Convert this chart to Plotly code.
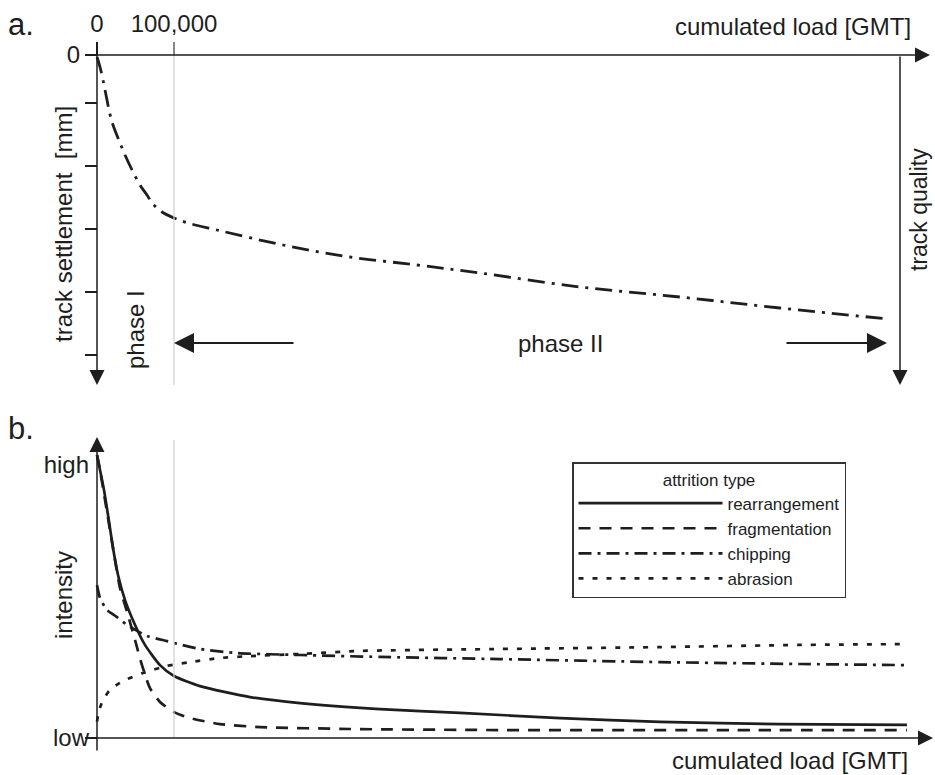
import plotly.graph_objects as go

W, H = 935, 775
FONT = "Liberation Sans, Arial, sans-serif"
INK = "#1e1e1e"

# ---------------- data ----------------
# panel a: track settlement vs cumulated load
settle_load = [0, 3900, 7800, 11700, 15600, 19500, 24700, 29900, 36400, 45500,
               55800, 64900, 72700, 84400, 100000, 118200, 155800, 241600,
               328600, 415600, 497400, 627300, 757100, 887000, 1027300]
settle_mm = [0.2, 1.2, 2.5, 4.0, 5.5, 6.7, 7.8, 8.8, 10.0, 11.5,
             13.0, 14.0, 14.9, 15.7, 16.3, 16.8, 17.5, 19.0,
             20.2, 21.0, 21.8, 23.2, 24.2, 25.3, 26.4]
settle_ticks = [0, 4.8, 11.1, 17.4, 23.7, 30.0]
settle_ticktext = ["0", "", "", "", "", ""]
load_ticks = [0, 100000]
load_ticktext = ["0", "100,000"]
phase_boundary = 100000

# panel b: attrition intensity (0 = low, 1 = high)
rearr_load = [0, 3900, 9100, 14300, 20800, 27300, 36400, 49400, 62300, 81800,
              100000, 133800, 198700, 263600, 367500, 471400, 601300, 731200,
              887000, 1051900]
rearr_int = [1.037, 0.982, 0.908, 0.817, 0.696, 0.597, 0.505, 0.414, 0.341, 0.267,
             0.227, 0.190, 0.150, 0.128, 0.106, 0.092, 0.073, 0.059, 0.051, 0.048]

frag_load = [0, 3900, 10400, 16900, 23400, 29900, 39000, 49400, 58400, 68800,
             81800, 100000, 120800, 159700, 211700, 328600, 523400, 783100, 1051900]
frag_int = [1.037, 0.982, 0.872, 0.762, 0.652, 0.549, 0.462, 0.359, 0.267, 0.183,
            0.132, 0.095, 0.073, 0.051, 0.040, 0.033, 0.029, 0.029, 0.029]

chip_load = [0, 3900, 13000, 26000, 39000, 64900, 90900, 100000, 133800, 181800,
             263600, 367500, 523400, 731200, 913000, 1051900]
chip_int = [0.560, 0.513, 0.469, 0.443, 0.414, 0.374, 0.355, 0.348, 0.326, 0.311,
            0.304, 0.297, 0.289, 0.278, 0.271, 0.267]

abr_load = [0, 2600, 7800, 16900, 33800, 59700, 90900, 120800, 159700, 198700,
            263600, 341600, 523400, 731200, 913000, 1051900]
abr_int = [0.060, 0.100, 0.139, 0.176, 0.209, 0.238, 0.264, 0.278, 0.293, 0.300,
           0.308, 0.319, 0.326, 0.333, 0.341, 0.344]

intensity_ticks = [0, 1]
intensity_ticktext = ["low", "high"]

# ---------------- geometry helpers (layout only) ----------------
def px(x):
    return x / W

def py(y):
    return 1 - y / H

X0PX, X100PX = 97, 174                     # pixel of load 0 and 100,000
GMT_PER_PX = 100000 / (X100PX - X0PX)
x_range = [(0 - X0PX) * GMT_PER_PX, (W - X0PX) * GMT_PER_PX]

A_TOP, A_BOT = 0, 400                       # panel a pixel band
A_ZERO = 55
A_SCALE = 10.0                               # px per settlement unit
ya_range = [(A_BOT - A_ZERO) / A_SCALE, (A_TOP - A_ZERO) / A_SCALE]

B_TOP, B_BOT = 400, H
B_LOW, B_HIGH = 738, 465
B_SCALE = B_LOW - B_HIGH
yb_range = [(B_LOW - B_BOT) / B_SCALE, (B_LOW - B_TOP) / B_SCALE]

TXT = 24

fig = go.Figure()

fig.add_trace(go.Scatter(x=settle_load, y=settle_mm, mode="lines", showlegend=False,
                         line=dict(color=INK, width=2.8, dash="17px,7px,3px,7px", shape="spline"),
                         xaxis="x", yaxis="y", hoverinfo="skip"))

series = [
    ("rearrangement", rearr_load, rearr_int, "solid"),
    ("fragmentation", frag_load, frag_int, "12px,9px"),
    ("chipping", chip_load, chip_int, "13px,6px,3px,6px"),
    ("abrasion", abr_load, abr_int, "5px,9px"),
]
for name, xs, ys, dash in series:
    fig.add_trace(go.Scatter(x=xs, y=ys, mode="lines", name=name,
                             line=dict(color=INK, width=2.7, dash=dash, shape="spline", smoothing=0.6),
                             xaxis="x2", yaxis="y2", hoverinfo="skip"))

axis_common = dict(showgrid=False, zeroline=False, showline=False, tickcolor=INK,
                   tickfont=dict(family=FONT, size=TXT, color=INK))

fig.update_layout(
    width=W, height=H,
    margin=dict(l=0, r=0, t=0, b=0),
    paper_bgcolor="white", plot_bgcolor="rgba(0,0,0,0)",
    font=dict(family=FONT, color=INK),
    xaxis=dict(domain=[0, 1], range=x_range, side="top", anchor="free", position=py(A_ZERO),
               ticks="outside", ticklen=13, tickwidth=1.5, tickvals=load_ticks,
               ticktext=load_ticktext, **axis_common),
    yaxis=dict(domain=[py(A_BOT), py(A_TOP)], range=ya_range, anchor="free", position=px(X0PX),
               ticks="outside", ticklen=12, tickwidth=1.5, tickvals=settle_ticks,
               ticktext=settle_ticktext, **axis_common),
    xaxis2=dict(domain=[0, 1], range=x_range, anchor="y2", visible=False, matches="x"),
    yaxis2=dict(domain=[py(B_BOT), py(B_TOP)], range=yb_range, anchor="free", position=px(X0PX),
                ticks="", tickvals=intensity_ticks, ticktext=intensity_ticktext,
                ticklabelstandoff=8,
                minor=dict(tickvals=[0], ticks="outside", ticklen=12, tickwidth=1.5, tickcolor=INK),
                **axis_common),
    showlegend=True,
    legend=dict(x=px(572), y=py(462), xanchor="left", yanchor="top",
                bordercolor="#333", borderwidth=1.5, bgcolor="white",
                font=dict(family=FONT, size=17, color=INK),
                title=dict(text="attrition type", side="top center",
                           font=dict(family=FONT, size=17, color=INK)),
                itemwidth=144, tracegroupgap=0),
)

# phase boundary (light grey guide) in both panels
fig.add_shape(type="line", xref="x", yref="paper", x0=phase_boundary, x1=phase_boundary,
              y0=py(42), y1=py(385), line=dict(color="#cfcfcf", width=1.2))
fig.add_shape(type="line", xref="x2", yref="paper", x0=phase_boundary, x1=phase_boundary,
              y0=py(440), y1=py(B_LOW), line=dict(color="#cfcfcf", width=1.2))

def arrow(hx, hy, tx, ty, width=1.5):
    fig.add_annotation(x=px(hx), y=py(hy), xref="paper", yref="paper",
                       ax=tx - hx, ay=ty - hy, axref="pixel", ayref="pixel",
                       text="", showarrow=True, arrowhead=2, arrowsize=2,
                       arrowwidth=width, arrowcolor=INK, standoff=0)

# panel a axes
arrow(930, A_ZERO, 85, A_ZERO)        # top load axis
arrow(X0PX, 385, X0PX, 42)            # settlement axis
arrow(900, 385, 900, A_ZERO)          # track quality axis
# phase II arrows
arrow(174, 343, 295, 343, 2)
arrow(887, 343, 785, 343, 2)
# panel b axes
arrow(X0PX, 437, X0PX, 752)
arrow(933, B_LOW, 85, B_LOW)

def label(text, x, y, size=TXT, angle=0, xanchor="center"):
    fig.add_annotation(x=px(x), y=py(y), xref="paper", yref="paper", text=text,
                       showarrow=False, textangle=angle, xanchor=xanchor, yanchor="middle",
                       font=dict(family=FONT, size=size, color=INK))

label("a.", 6, 24, size=31, xanchor="left")
label("b.", 6, 428, size=31, xanchor="left")
label("cumulated load [GMT]", 913, 27, xanchor="right")
label("cumulated load [GMT]", 910, 760, xanchor="right")
label("track settlement  [mm]", 63, 224, angle=-90)
label("phase I", 135, 330, angle=-90)
label("track quality", 919, 210, size=23, angle=-90)
label("phase II", 560, 343)
label("intensity", 63, 595, angle=-90)

fig.write_html("out.html")
